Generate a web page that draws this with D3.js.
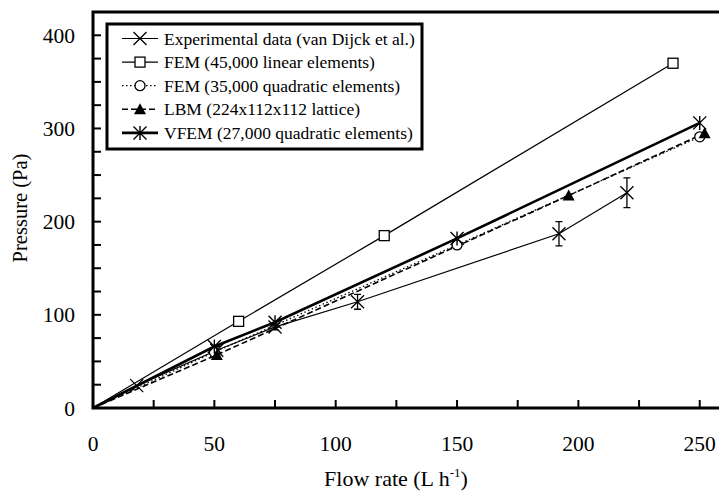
<!DOCTYPE html>
<html><head><meta charset="utf-8">
<script src="https://cdn.jsdelivr.net/npm/d3@7"></script>
<style>body{margin:0;background:#fff}svg{display:block}</style>
</head><body><svg id="c" width="719" height="492"></svg>
<script>
// ---- data ----
const expFlow = [0, 18, 51, 75, 109, 192, 220];
const expPressure = [0, 24, 62, 87, 114, 187, 231];
const expError = [0, 0, 4, 3, 8, 13, 16];
const femLinFlow = [0, 60, 120, 239];
const femLinPressure = [0, 93, 185, 370];
const femQuadFlow = [0, 50, 150, 250];
const femQuadPressure = [0, 60, 175, 291];
const lbmFlow = [0, 51, 196, 252];
const lbmPressure = [0, 57, 228, 295];
const vfemFlow = [0, 50, 75, 150, 250];
const vfemPressure = [0, 66, 92, 182, 306];
const xTickLabels = [0, 50, 100, 150, 200, 250];
const yTickLabels = [0, 100, 200, 300, 400];
const legendLabels = [
  "Experimental data (van Dijck et al.)",
  "FEM (45,000 linear elements)",
  "FEM (35,000 quadratic elements)",
  "LBM (224x112x112 lattice)",
  "VFEM (27,000 quadratic elements)"
];

const svg = d3.select("#c");
const FONT = "'Liberation Serif','Times New Roman',serif";
const x = d3.scaleLinear().domain([0, 260]).range([93, 724]);
const y = d3.scaleLinear().domain([0, 425]).range([408, 12]);

const zip = (a, b) => a.map((v, i) => [v, b[i]]);
const series = [
  {key: "exp", pts: zip(expFlow, expPressure), width: 1.2, dash: null, marker: "x"},
  {key: "femlin", pts: zip(femLinFlow, femLinPressure), width: 1.2, dash: null, marker: "square"},
  {key: "femquad", pts: zip(femQuadFlow, femQuadPressure), width: 1.3, dash: "1.5,2.5", marker: "circle"},
  {key: "lbm", pts: zip(lbmFlow, lbmPressure), width: 1.6, dash: "6,3", marker: "triangle"},
  {key: "vfem", pts: zip(vfemFlow, vfemPressure), width: 2.6, dash: null, marker: "asterisk"}
];

function drawMarker(g, type, cx, cy) {
  if (type === "x") {
    const s = 6.5;
    g.append("path").attr("d", `M${cx-s},${cy-s}L${cx+s},${cy+s}M${cx-s},${cy+s}L${cx+s},${cy-s}`)
      .attr("stroke", "#000").attr("stroke-width", 1.3).attr("fill", "none");
  } else if (type === "asterisk") {
    const s = 6.5;
    g.append("path").attr("d", `M${cx-s},${cy-s}L${cx+s},${cy+s}M${cx-s},${cy+s}L${cx+s},${cy-s}M${cx},${cy-s-0.5}L${cx},${cy+s+0.5}`)
      .attr("stroke", "#000").attr("stroke-width", 1.4).attr("fill", "none");
  } else if (type === "square") {
    g.append("rect").attr("x", cx-5).attr("y", cy-5).attr("width", 10).attr("height", 10)
      .attr("fill", "#fff").attr("stroke", "#000").attr("stroke-width", 1.3);
  } else if (type === "circle") {
    g.append("circle").attr("cx", cx).attr("cy", cy).attr("r", 5)
      .attr("fill", "#fff").attr("stroke", "#000").attr("stroke-width", 1.3);
  } else if (type === "triangle") {
    g.append("path").attr("d", `M${cx},${cy-6}L${cx+6},${cy+5}L${cx-6},${cy+5}Z`).attr("fill", "#000");
  }
}

// ---- axes / frame ----
const x0 = x.range()[0], x1 = x.range()[1], yb = y.range()[0], yt = y.range()[1];
svg.append("path").attr("d", `M${x0},${yb}L${x0},${yt}L${x1},${yt}L${x1},${yb}Z`)
  .attr("fill", "none").attr("stroke", "#000").attr("stroke-width", 3);

const xMinor = d3.range(25, 260, 25);
svg.append("g").selectAll("line").data(xMinor).join("line")
  .attr("x1", d => x(d)).attr("x2", d => x(d)).attr("y1", yb).attr("y2", yb - 8)
  .attr("stroke", "#000").attr("stroke-width", 2);
const yMinor = d3.range(25, 425, 25);
svg.append("g").selectAll("line").data(yMinor).join("line")
  .attr("x1", x0).attr("x2", x0 + 8).attr("y1", d => y(d)).attr("y2", d => y(d))
  .attr("stroke", "#000").attr("stroke-width", 2);

svg.append("g").selectAll("text").data(xTickLabels).join("text")
  .attr("x", d => x(d)).attr("y", 451).attr("text-anchor", "middle")
  .attr("font-family", FONT).attr("font-size", 21.5).text(d => d);
svg.append("g").selectAll("text").data(yTickLabels).join("text")
  .attr("x", 75).attr("y", d => y(d) + 7.5).attr("text-anchor", "end")
  .attr("font-family", FONT).attr("font-size", 21.5).text(d => d);

const xt = svg.append("text").attr("x", 396).attr("y", 486).attr("text-anchor", "middle")
  .attr("font-family", FONT).attr("font-size", 22);
xt.append("tspan").text("Flow rate (L h");
xt.append("tspan").attr("font-size", 13).attr("dy", -9).text("-1");
xt.append("tspan").attr("dy", 9).text(")");

svg.append("text").attr("transform", "translate(27,208) rotate(-90)").attr("text-anchor", "middle")
  .attr("font-family", FONT).attr("font-size", 20.5).text("Pressure (Pa)");

// ---- series ----
const line = d3.line().x(d => x(d[0])).y(d => y(d[1]));
const plot = svg.append("g");
series.forEach(s => {
  plot.append("path").datum(s.pts).attr("d", line).attr("fill", "none")
    .attr("stroke", "#000").attr("stroke-width", s.width)
    .attr("stroke-dasharray", s.dash);
});
// error bars
expFlow.forEach((f, i) => {
  if (!expError[i]) return;
  const cx = x(f), ya = y(expPressure[i] + expError[i]), yb2 = y(expPressure[i] - expError[i]);
  plot.append("path").attr("d", `M${cx},${ya}L${cx},${yb2}M${cx-3.5},${ya}L${cx+3.5},${ya}M${cx-3.5},${yb2}L${cx+3.5},${yb2}`)
    .attr("stroke", "#000").attr("stroke-width", 1.3).attr("fill", "none");
});
series.forEach(s => {
  s.pts.forEach(p => { if (p[0] > 0) drawMarker(plot, s.marker, x(p[0]), y(p[1])); });
});

// ---- legend ----
const lg = svg.append("g");
lg.append("rect").attr("x", 107).attr("y", 24).attr("width", 315).attr("height", 125)
  .attr("fill", "#fff").attr("stroke", "#000").attr("stroke-width", 3);
series.forEach((s, i) => {
  const ly = 38.5 + i * 23.6;
  lg.append("line").attr("x1", 122).attr("x2", 158).attr("y1", ly).attr("y2", ly)
    .attr("stroke", "#000").attr("stroke-width", s.width).attr("stroke-dasharray", s.dash);
  drawMarker(lg, s.marker, 140, ly);
  lg.append("text").attr("x", 164).attr("y", ly + 6).attr("font-family", FONT)
    .attr("font-size", 17.5).text(legendLabels[i]);
});
</script></body></html>
